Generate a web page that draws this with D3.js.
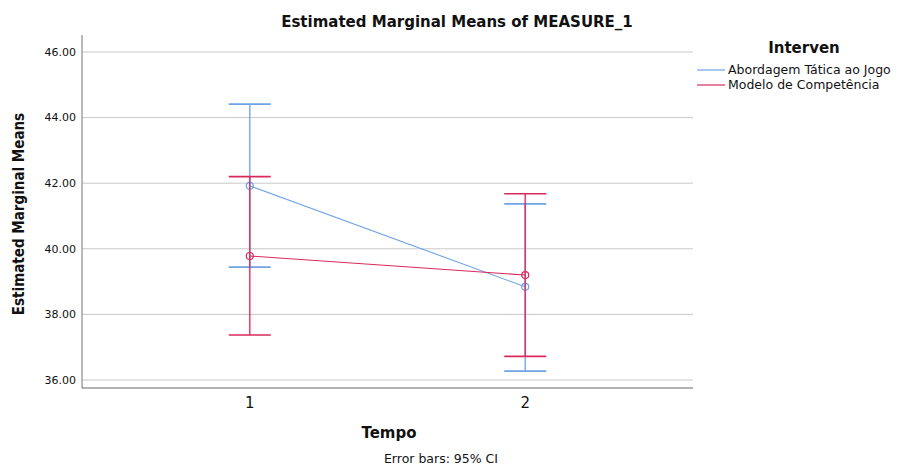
<!DOCTYPE html>
<html>
<head>
<meta charset="utf-8">
<script src="https://cdn.jsdelivr.net/npm/d3@7"></script>
<style>
  body { margin: 0; background: #fff; }
  text { font-family: "DejaVu Sans", Verdana, sans-serif; fill: #111; }
</style>
</head>
<body>
<svg id="chart" width="911" height="466"></svg>
<script>
// data
var tempos     = ["1", "2"];
var seriesNames = ["Abordagem Tática ao Jogo", "Modelo de Competência"];
var colors     = ["#6fa3e6", "#d9295c"];
var meanAbord  = [41.92, 38.84];
var lowAbord   = [39.44, 36.27];
var highAbord  = [44.41, 41.37];
var meanModelo = [39.78, 39.20];
var lowModelo  = [37.37, 36.72];
var highModelo = [42.20, 41.68];
var yTicks     = [36, 38, 40, 42, 44, 46];

var series = [
  {name: seriesNames[0], color: colors[0], mean: meanAbord, low: lowAbord, high: highAbord},
  {name: seriesNames[1], color: colors[1], mean: meanModelo, low: lowModelo, high: highModelo}
];

var svg = d3.select("#chart"),
    mLeft = 82, mRight = 693, mTop = 35, mBottom = 388;

var x = d3.scalePoint().domain(tempos).range([mLeft, mRight]).padding(0.609);
var y = d3.scaleLinear().domain([36, 46]).range([380, 52]);

// gridlines
svg.append("g").selectAll("line").data(yTicks).enter().append("line")
  .attr("x1", mLeft).attr("x2", mRight)
  .attr("y1", function(d){ return y(d); }).attr("y2", function(d){ return y(d); })
  .attr("stroke", "#c8c8c8").attr("stroke-width", 1);

// axes lines
svg.append("line").attr("x1", mLeft).attr("x2", mLeft).attr("y1", mTop).attr("y2", mBottom)
  .attr("stroke", "#8a8a8a").attr("stroke-width", 1.2);
svg.append("line").attr("x1", mLeft).attr("x2", mRight).attr("y1", mBottom).attr("y2", mBottom)
  .attr("stroke", "#666").attr("stroke-width", 1.2);

// y tick labels
svg.append("g").selectAll("text").data(yTicks).enter().append("text")
  .attr("x", mLeft - 6).attr("y", function(d){ return y(d); }).attr("dy", "0.35em")
  .attr("text-anchor", "end").style("font-size", "11px")
  .text(function(d){ return d3.format(".2f")(d); });

// x tick labels
svg.append("g").selectAll("text").data(tempos).enter().append("text")
  .attr("x", function(d){ return x(d); }).attr("y", 408)
  .attr("text-anchor", "middle").style("font-size", "15px")
  .text(function(d){ return d; });

// titles
svg.append("text").attr("x", 457).attr("y", 27).attr("text-anchor", "middle")
  .style("font-size", "15px").style("font-weight", "bold")
  .text("Estimated Marginal Means of MEASURE_1");
svg.append("text").attr("x", 389).attr("y", 438).attr("text-anchor", "middle")
  .style("font-size", "15px").style("font-weight", "bold").text("Tempo");
svg.append("text").attr("x", 441).attr("y", 463).attr("text-anchor", "middle")
  .style("font-size", "12.5px").text("Error bars: 95% CI");
svg.append("text").attr("transform", "translate(24,214) rotate(-90)")
  .attr("text-anchor", "middle")
  .style("font-family", "'DejaVu Sans Condensed', 'Liberation Sans Narrow', sans-serif")
  .style("font-size", "15px").style("font-weight", "bold")
  .text("Estimated Marginal Means");

// error bars, lines, markers
var line = d3.line().x(function(d, i){ return x(tempos[i]); }).y(function(d){ return y(d); });
series.forEach(function(s) {
  var g = svg.append("g");
  tempos.forEach(function(t, i) {
    var cx = x(t);
    g.append("line").attr("x1", cx).attr("x2", cx).attr("y1", y(s.low[i])).attr("y2", y(s.high[i]))
      .attr("stroke", s.color).attr("stroke-width", 1.6).attr("opacity", 0.85);
    [s.low[i], s.high[i]].forEach(function(v) {
      g.append("line").attr("x1", cx - 21).attr("x2", cx + 21).attr("y1", y(v)).attr("y2", y(v))
        .attr("stroke", s.color).attr("stroke-width", 1.6);
    });
  });
  g.append("path").datum(s.mean).attr("d", line).attr("fill", "none")
    .attr("stroke", s.color).attr("stroke-width", 1.1);
  g.selectAll("circle").data(s.mean).enter().append("circle")
    .attr("cx", function(d, i){ return x(tempos[i]); }).attr("cy", function(d){ return y(d); })
    .attr("r", 3.5).attr("fill", "none").attr("stroke", s.color).attr("stroke-width", 1.2);
});

// legend
svg.append("text").attr("x", 804).attr("y", 53).attr("text-anchor", "middle")
  .style("font-size", "15px").style("font-weight", "bold").text("Interven");
var lg = svg.append("g").selectAll("g").data(series).enter().append("g")
  .attr("transform", function(d, i){ return "translate(697," + (70 + i * 15) + ")"; });
lg.append("line").attr("x1", 0).attr("x2", 28).attr("stroke", function(d){ return d.color; }).attr("stroke-width", 1.2);
lg.append("text").attr("x", 31).attr("dy", "0.35em").style("font-size", "12.5px")
  .text(function(d){ return d.name; });
</script>
</body>
</html>
